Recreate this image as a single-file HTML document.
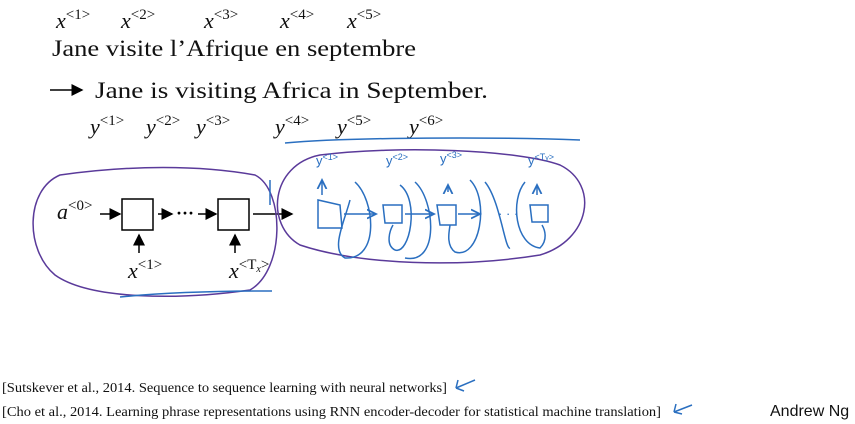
<!DOCTYPE html>
<html><head><style>
body{margin:0;background:#fff;width:855px;height:424px;overflow:hidden}
svg{display:block}
.s{font-family:"Liberation Serif",serif}
</style></head><body>
<svg width="855" height="424" viewBox="0 0 855 424">
<defs><marker id="a" markerWidth="8" markerHeight="8" refX="7" refY="4" orient="auto"><path d="M0,0 L8,4 L0,8z" fill="#000"/></marker>
<marker id="b" markerWidth="8" markerHeight="8" refX="6" refY="4" orient="auto"><path d="M0,1 L6,4 L0,7" fill="none" stroke="#2a6fc0" stroke-width="1.2"/></marker></defs>
<g class="s" font-size="22" fill="#111">
<text x="56" y="28" font-style="italic">x<tspan font-size="15" dy="-9" font-style="normal">&lt;1&gt;</tspan></text>
<text x="121" y="28" font-style="italic">x<tspan font-size="15" dy="-9" font-style="normal">&lt;2&gt;</tspan></text>
<text x="204" y="28" font-style="italic">x<tspan font-size="15" dy="-9" font-style="normal">&lt;3&gt;</tspan></text>
<text x="280" y="28" font-style="italic">x<tspan font-size="15" dy="-9" font-style="normal">&lt;4&gt;</tspan></text>
<text x="347" y="28" font-style="italic">x<tspan font-size="15" dy="-9" font-style="normal">&lt;5&gt;</tspan></text>
<text x="52" y="56" font-size="23" textLength="364" lengthAdjust="spacingAndGlyphs">Jane visite l’Afrique en septembre</text>
<text x="95" y="98" font-size="23" textLength="393" lengthAdjust="spacingAndGlyphs">Jane is visiting Africa in September.</text>
<text x="90" y="134" font-style="italic">y<tspan font-size="15" dy="-9" font-style="normal">&lt;1&gt;</tspan></text>
<text x="146" y="134" font-style="italic">y<tspan font-size="15" dy="-9" font-style="normal">&lt;2&gt;</tspan></text>
<text x="196" y="134" font-style="italic">y<tspan font-size="15" dy="-9" font-style="normal">&lt;3&gt;</tspan></text>
<text x="275" y="134" font-style="italic">y<tspan font-size="15" dy="-9" font-style="normal">&lt;4&gt;</tspan></text>
<text x="337" y="134" font-style="italic">y<tspan font-size="15" dy="-9" font-style="normal">&lt;5&gt;</tspan></text>
<text x="409" y="134" font-style="italic">y<tspan font-size="15" dy="-9" font-style="normal">&lt;6&gt;</tspan></text>
<text x="57" y="219" font-style="italic">a<tspan font-size="15" dy="-9" font-style="normal">&lt;0&gt;</tspan></text>
<text x="128" y="278" font-style="italic">x<tspan font-size="15" dy="-9" font-style="normal">&lt;1&gt;</tspan></text>
<text x="229" y="278" font-style="italic">x<tspan font-size="15" dy="-9" font-style="normal">&lt;T<tspan font-size="10" dy="3" font-style="italic">x</tspan><tspan dy="-3">&gt;</tspan></tspan></text>
</g>
<line x1="50" y1="90" x2="82" y2="90" stroke="#000" stroke-width="1.5" marker-end="url(#a)"/>
<g stroke="#000" stroke-width="1.5" fill="none">
<rect x="122" y="199" width="31" height="31"/>
<rect x="218" y="199" width="31" height="31"/>
<line x1="100" y1="214" x2="120" y2="214" marker-end="url(#a)"/>
<line x1="158" y1="214" x2="172" y2="214" marker-end="url(#a)"/>
<line x1="198" y1="214" x2="216" y2="214" marker-end="url(#a)"/>
<line x1="253" y1="214" x2="292" y2="214" marker-end="url(#a)"/>
<line x1="139" y1="253" x2="139" y2="235" marker-end="url(#a)"/>
<line x1="235" y1="253" x2="235" y2="235" marker-end="url(#a)"/>
</g>
<text x="176" y="219" font-size="18" font-weight="bold" class="s">···</text>
<g stroke="#5a3a9a" stroke-width="1.5" fill="none">
<path d="M60,175 C130,165 200,165 255,175 C285,190 285,270 250,290 C180,300 90,300 55,275 C25,250 25,190 60,175Z"/>
<path d="M320,155 C400,145 520,150 560,165 C600,185 590,240 540,255 C460,268 360,265 300,245 C265,225 270,165 320,155Z"/>
</g>
<g stroke="#2a6fc0" stroke-width="1.5" fill="none">
<path d="M285,143 C350,137 500,137 580,140"/>
<path d="M120,297 C170,292 230,291 272,291"/>
<path d="M270,180 L270,205"/>
<path d="M318,200 L318,228 L342,228 L340,205 Z"/>
<path d="M383,205 L402,205 L402,223 L385,223 Z"/>
<path d="M437,205 L456,205 L456,225 L440,225 Z"/>
<path d="M530,205 L548,205 L548,222 L532,222 Z"/>
<path d="M344,214 L376,214" marker-end="url(#b)"/>
<path d="M405,214 L434,214" marker-end="url(#b)"/>
<path d="M458,214 L480,214" marker-end="url(#b)"/>
<path d="M322,195 L322,180" marker-end="url(#b)"/>
<path d="M448,192 L448,185" marker-end="url(#b)"/>
<path d="M537,195 L537,185" marker-end="url(#b)"/>
<path d="M355,182 C375,200 380,260 345,258 C330,250 345,220 350,200"/>
<path d="M400,185 C420,200 410,255 395,250 C385,245 390,230 393,225"/>
<path d="M415,182 C435,200 440,265 405,258"/>
<path d="M470,180 C490,200 480,260 455,252 C445,245 450,228 450,225"/>
<path d="M485,182 C500,200 505,250 510,248"/>
<path d="M525,182 C510,200 515,245 540,248 C548,240 545,230 542,225"/>
</g>
<g font-family="Liberation Sans,sans-serif" font-size="13" fill="#2a6fc0">
<text x="316" y="165">y<tspan font-size="9" dy="-5">&lt;1&gt;</tspan></text>
<text x="386" y="165">y<tspan font-size="9" dy="-5">&lt;2&gt;</tspan></text>
<text x="440" y="163">y<tspan font-size="9" dy="-5">&lt;3&gt;</tspan></text>
<text x="528" y="165">y<tspan font-size="9" dy="-5">&lt;T<tspan font-size="7">y</tspan>&gt;</tspan></text>
<text x="498" y="218">· · ·</text>
</g>
<g class="s" font-size="14" fill="#111">
<text x="2" y="392" textLength="445" lengthAdjust="spacingAndGlyphs">[Sutskever et al., 2014. Sequence to sequence learning with neural networks]</text>
<text x="2" y="416" textLength="659" lengthAdjust="spacingAndGlyphs">[Cho et al., 2014. Learning phrase representations using RNN encoder-decoder for statistical machine translation]</text>
</g>
<g stroke="#2a6fc0" stroke-width="1.5" fill="none">
<path d="M475,380 L456,388 M456,388 L458,380 M456,388 L464,391"/>
<path d="M692,405 L674,412 M674,412 L676,404 M674,412 L682,414"/>
</g>
<text x="770" y="416" font-family="Liberation Sans,sans-serif" font-size="16" fill="#111">Andrew Ng</text>
</svg>
</body></html>
